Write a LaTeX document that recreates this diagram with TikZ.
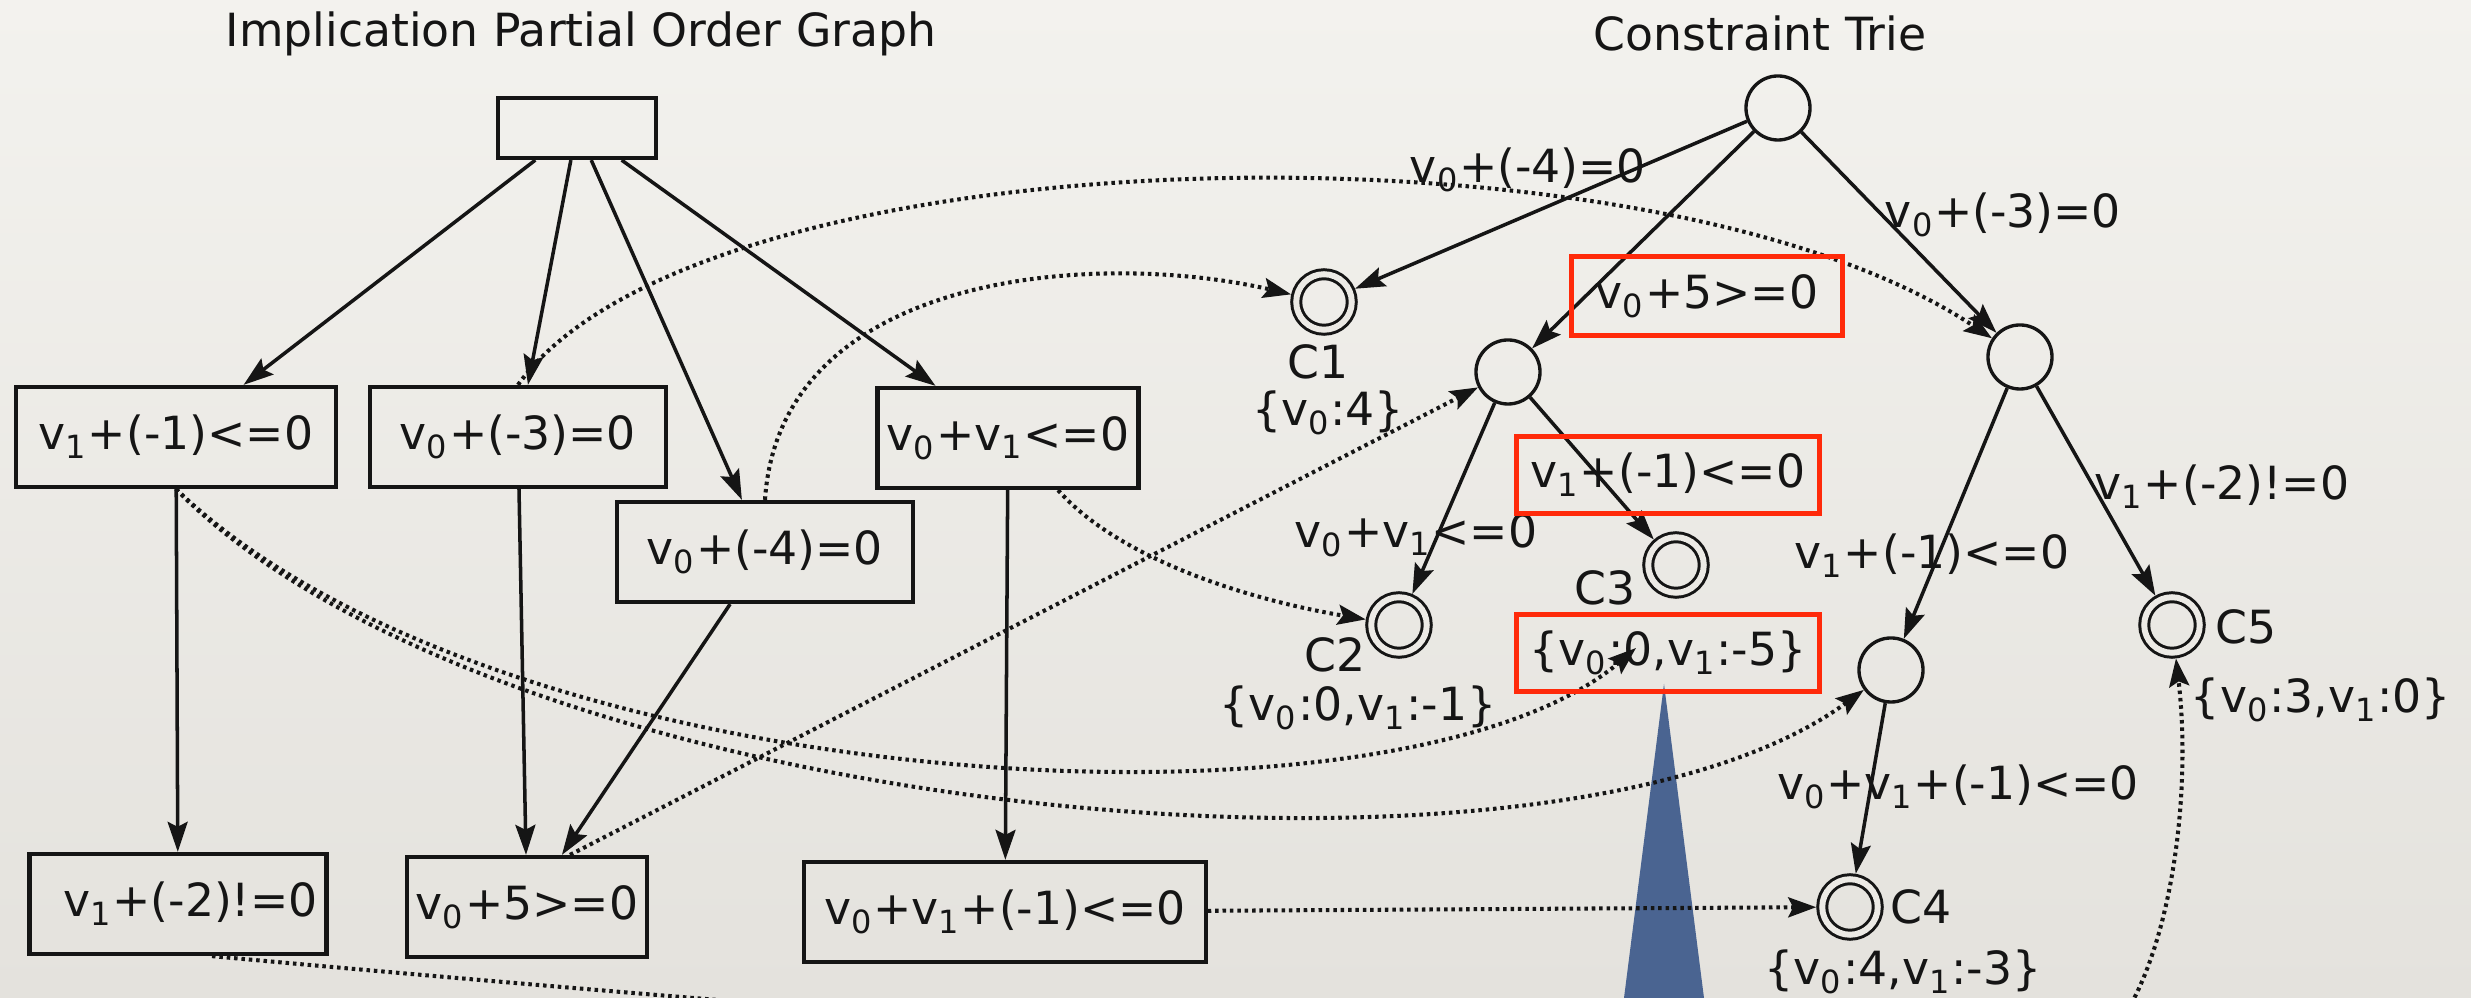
\documentclass[tikz,border=0pt]{standalone}
\usepackage{fontspec}
\setmainfont{DejaVu Sans}
\usetikzlibrary{arrows.meta}
\definecolor{ink}{HTML}{151515}
\definecolor{bgtop}{HTML}{F3F2EE}
\definecolor{bgbot}{HTML}{E4E2DD}
\definecolor{bgmid}{HTML}{ECEAE5}
\definecolor{hlred}{HTML}{FF2A0A}
\definecolor{pointer}{HTML}{4A6491}
\newcommand{\vsub}[1]{v\textsubscript{#1}}

\begin{document}
\begin{tikzpicture}[x=0.01cm,y=-0.01cm,ink,
  font=\fontsize{13}{15}\selectfont,
  pogbox/.style={draw=ink,line width=1.2pt,minimum height=1cm,inner sep=0pt},
  trienode/.style={circle,draw=ink,line width=0.95pt,minimum size=0.64cm,inner sep=0pt},
  leafnode/.style={circle,draw=ink,line width=0.85pt,double=bgmid,double distance=0.06cm,
                   minimum size=0.555cm,inner sep=0pt,outer sep=0.06cm},
  hlbox/.style={draw=hlred,line width=0.05cm,inner sep=0pt},
  implies/.style={-{Stealth[length=0.3cm,width=0.2cm,inset=0.05cm]},line width=1pt},
  maps/.style={-{Stealth[length=0.28cm,width=0.2cm,inset=0.05cm]},line width=1.15pt,
               dash pattern=on 1pt off 1.1pt}]
  \useasboundingbox (0,0) rectangle (2471,998);
  \shade[top color=bgtop,bottom color=bgbot] (0,0) rectangle (2471,998);
  \clip (0,0) rectangle (2471,998);

  % pointer under the C3 values
  \fill[pointer] (1664,684) -- (1704,998) -- (1624,998) -- cycle;

  % titles
  \node (titlepog) at (581,34) {Implication Partial Order Graph};
  \node (titletrie) at (1760,33) {Constraint Trie};

  % implication partial order graph
  \node[pogbox,minimum width=1.58cm,minimum height=0.6cm] (pogroot) at (577,128) {};
  \node[pogbox,minimum width=3.2cm] (pogA) at (176,437) {\vsub1+(-1)<=0};
  \node[pogbox,minimum width=2.96cm] (pogB) at (518,437) {\vsub0+(-3)=0};
  \node[pogbox,minimum width=2.96cm] (pogC) at (765,552) {\vsub0+(-4)=0};
  \node[pogbox,minimum width=2.61cm] (pogD) at (1008,438) {\vsub0+\vsub1<=0};
  \node[pogbox,minimum width=2.97cm] (pogE) at (178,904) {\hspace*{0.25cm}\vsub1+(-2)!=0};
  \node[pogbox,minimum width=2.4cm] (pogF) at (527,907) {\vsub0+5>=0};
  \node[pogbox,minimum width=4.01cm] (pogG) at (1005,912) {\vsub0+\vsub1+(-1)<=0};

  \foreach \t in {pogA,pogB,pogC,pogD}
    \draw[implies] (pogroot) -- (\t);
  \draw[implies] (pogA) -- (pogE);
  \draw[implies] (pogB) -- (pogF);
  \draw[implies] (pogC) -- (pogF);
  \draw[implies] (pogD) -- (pogG);

  % constraint trie
  \node[trienode] (troot) at (1778,108) {};
  \node[leafnode] (tc1) at (1324,302) {};
  \node[trienode] (tn1) at (1508,372) {};
  \node[trienode] (tn2) at (2020,357) {};
  \node[leafnode] (tc2) at (1399,625) {};
  \node[leafnode] (tc3) at (1676,565) {};
  \node[trienode] (tn3) at (1891,670) {};
  \node[leafnode] (tc5) at (2172,625) {};
  \node[leafnode] (tc4) at (1850,907) {};

  \foreach \a/\b in {troot/tc1,troot/tn1,troot/tn2,tn1/tc2,tn1/tc3,tn2/tn3,tn2/tc5,tn3/tc4}
    \draw[implies] (\a) -- (\b);

  % leaf names and values
  \node (lc1) at (1318,362) {C1};
  \node (vc1) at (1328,413) {\{\vsub0:4\}};
  \node (lc2) at (1335,655) {C2};
  \node (vc2) at (1358,708) {\{\vsub0:0,\vsub1:-1\}};
  \node (lc3) at (1605,588) {C3};
  \node (lc4) at (1921,907) {C4};
  \node (vc4) at (1903,972) {\{\vsub0:4,\vsub1:-3\}};
  \node (lc5) at (2246,627) {C5};
  \node (vc5) at (2321,700) {\{\vsub0:3,\vsub1:0\}};

  % edge labels
  \node (le1) at (1528,170) {\vsub0+(-4)=0};
  \node (le2) at (2003,215) {\vsub0+(-3)=0};
  \node (le5) at (1416,535) {\vsub0+\vsub1<=0};
  \node (le6) at (1932,556) {\vsub1+(-1)<=0};
  \node (le7) at (2222,487) {\vsub1+(-2)!=0};
  \node (le8) at (1958,787) {\vsub0+\vsub1+(-1)<=0};

  % mappings from the graph into the trie
  \coordinate (c3hit) at (1636,648);
  \coordinate (offpage) at (2080,1060);
  \draw[maps] (pogB.north) .. controls (700,130) and (1650,110) .. (tn2);
  \draw[maps] (pogC.north) .. controls (780,270) and (1100,250) .. (tc1);
  \draw[maps] ([xshift=0.5cm]pogD.south) .. controls (1120,560) and (1250,600) .. (tc2);
  \draw[maps] (pogA.south) .. controls (500,800) and (1400,850) .. (c3hit);
  \draw[maps] (pogA.south) .. controls (500,820) and (1550,920) .. (tn3);
  \draw[maps] ([xshift=0.43cm]pogF.north) -- (tn1);
  \draw[maps] (pogG) -- (tc4);
  \draw[maps] ([xshift=0.34cm]pogE.south) .. controls (800,1010) and (1900,1100) .. (offpage)
              .. controls (2160,1020) and (2195,820) .. (tc5);

  % highlighted labels
  \node[hlbox,minimum width=2.7cm,minimum height=0.78cm] (hlA) at (1707,296) {\vsub0+5>=0};
  \node[hlbox,minimum width=3.03cm,minimum height=0.76cm] (hlB) at (1668,475) {\vsub1+(-1)<=0};
  \node[hlbox,minimum width=3.03cm,minimum height=0.77cm] (hlC) at (1668,653) {\{\vsub0:0,\vsub1:-5\}};
\end{tikzpicture}
\end{document}
